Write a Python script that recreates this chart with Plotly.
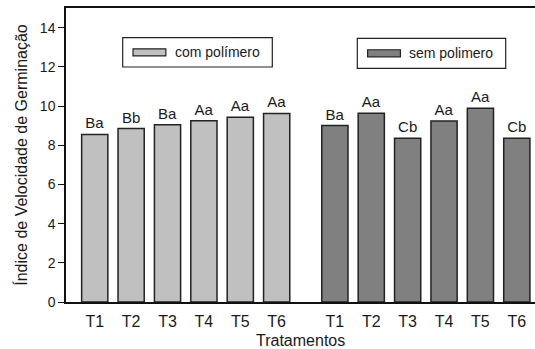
import plotly.graph_objects as go

# Índice de velocidade de germinação por tratamento
tratamentos = ["T1", "T2", "T3", "T4", "T5", "T6"]
com_polimero = [8.55, 8.85, 9.04, 9.25, 9.43, 9.62]
sem_polimero = [9.00, 9.63, 8.36, 9.23, 9.89, 8.35]
letras_com = ["Ba", "Bb", "Ba", "Aa", "Aa", "Aa"]
letras_sem = ["Ba", "Aa", "Cb", "Aa", "Aa", "Cb"]
y_ticks = [0, 2, 4, 6, 8, 10, 12, 14]

# positions: second group shifted to leave a gap between groups
group_gap = 1.6
x_com = [i + 1 for i in range(len(tratamentos))]
x_sem = [i + 1 + len(tratamentos) + group_gap - 1 for i in range(len(tratamentos))]

FONT = "Liberation Sans, Arial, sans-serif"
TXT = "#1a1a1a"

fig = go.Figure()
fig.add_trace(go.Bar(
    x=x_com, y=com_polimero, width=0.72, name="com polímero",
    marker=dict(color="#c0c0c0", line=dict(color="#222222", width=1.5)),
    text=letras_com, textposition="outside", cliponaxis=False,
    textfont=dict(family=FONT, size=15, color=TXT),
))
fig.add_trace(go.Bar(
    x=x_sem, y=sem_polimero, width=0.72, name="sem polimero",
    marker=dict(color="#808080", line=dict(color="#222222", width=1.5)),
    text=letras_sem, textposition="outside", cliponaxis=False,
    textfont=dict(family=FONT, size=15, color=TXT),
))

# boxed legend keys drawn in paper coordinates
def legend_box(x0, x1, y0, y1, color, label):
    fig.add_shape(type="rect", xref="paper", yref="paper", x0=x0, x1=x1, y0=y0, y1=y1,
                  line=dict(color="#222222", width=1.2), fillcolor="white", layer="above")
    sw0 = x0 + 0.022
    fig.add_shape(type="rect", xref="paper", yref="paper", x0=sw0, x1=sw0 + 0.07,
                  y0=(y0 + y1) / 2 - 0.012, y1=(y0 + y1) / 2 + 0.012,
                  line=dict(color="#222222", width=1.2), fillcolor=color, layer="above")
    fig.add_annotation(xref="paper", yref="paper", x=sw0 + 0.085, y=(y0 + y1) / 2,
                       text=label, showarrow=False, xanchor="left", yanchor="middle",
                       font=dict(family=FONT, size=14, color=TXT))

# plot area: 66..535 px wide, 8..302 px tall
legend_box((122.7 - 66) / 469, (272.3 - 66) / 469, (302 - 67) / 294, (302 - 37.7) / 294,
           "#c0c0c0", "com polímero")
legend_box((357.3 - 66) / 469, (505.7 - 66) / 469, (302 - 68.3) / 294, (302 - 38.3) / 294,
           "#808080", "sem polimero")

# x-axis title placed below the tick labels
fig.add_annotation(xref="paper", yref="paper", x=0.5, y=0, yshift=-38,
                   text="Tratamentos", showarrow=False, xanchor="center", yanchor="middle",
                   font=dict(family=FONT, size=16, color=TXT))

fig.update_layout(
    width=535, height=349,
    margin=dict(l=66, r=0, t=8, b=47),
    paper_bgcolor="white", plot_bgcolor="white",
    showlegend=False,
    font=dict(family=FONT, color=TXT),
    xaxis=dict(
        range=[0.21, 13.1],
        tickmode="array", tickvals=x_com + x_sem, ticktext=tratamentos + tratamentos,
        tickfont=dict(family=FONT, size=16, color=TXT),
        showline=True, linecolor="#111111", linewidth=1.5, mirror=True,
        ticks="", showgrid=False, zeroline=False, ticklabelstandoff=4,
    ),
    yaxis=dict(
        range=[0, 15],
        tickmode="array", tickvals=y_ticks,
        tickfont=dict(family=FONT, size=14, color=TXT),
        showline=True, linecolor="#111111", linewidth=1.5,
        ticks="outside", ticklen=6, tickcolor="#111111",
        showgrid=False, zeroline=False,
        title=dict(text="Índice de Velocidade de Germinação",
                   font=dict(family=FONT, size=16, color=TXT), standoff=8),
    ),
)

fig.write_html("out.html")
